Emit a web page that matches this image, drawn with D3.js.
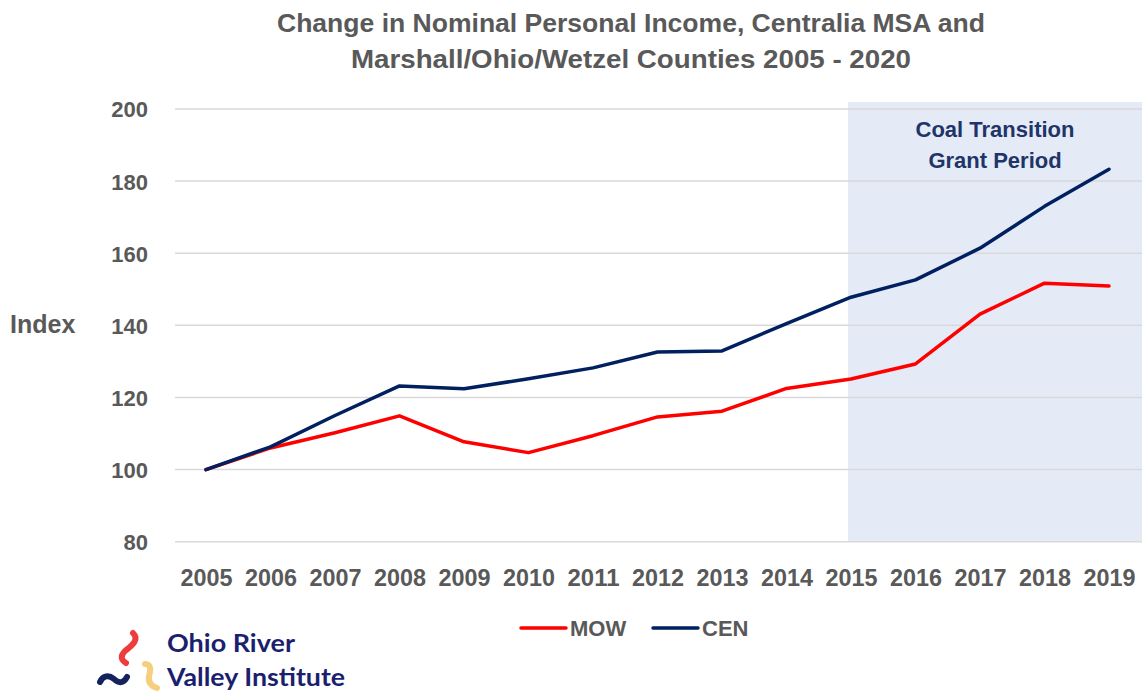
<!DOCTYPE html>
<html>
<head>
    <meta charset="utf-8">
    <title>Change in Nominal Personal Income</title>
    <script src="https://d3js.org/d3.v7.min.js"></script>
    <style>
        body { margin: 0; background: #fff; }
        text { font-family: "Liberation Sans", Arial, sans-serif; }
        .grid line { stroke: #d9d9d9; stroke-width: 1.5; }
        .axis text { fill: #595959; font-weight: bold; }
        .line { fill: none; stroke-width: 3.5; stroke-linejoin: round; stroke-linecap: round; }
        .mark { fill: none; stroke-width: 6; stroke-linecap: round; }
    </style>
</head>
<body>
<script>
    // data
    var years = ["2005", "2006", "2007", "2008", "2009", "2010", "2011", "2012",
        "2013", "2014", "2015", "2016", "2017", "2018", "2019"];
    var mow = [100, 106, 110.2, 114.9, 107.7, 104.7, 109.4, 114.6, 116.2, 122.5,
        125.1, 129.3, 143.1, 151.7, 150.9];
    var cen = [100, 106.3, 115, 123.2, 122.4, 125.2, 128.2, 132.6, 132.9, 140.5,
        147.8, 152.6, 161.4, 173, 183.3];
    var yTicks = [80, 100, 120, 140, 160, 180, 200];
    var grantStart = "2015";

    var w = 1143, h = 696;
    var plotLeft = 175, plotRight = 1142, plotTop = 102, plotBottom = 541.7;

    var svg = d3.select("body").append("svg")
        .attr("width", w)
        .attr("height", h);

    var x = d3.scalePoint().domain(years).range([206, 1109]);
    var y = d3.scaleLinear().domain([80, 200]).range([plotBottom, 109]);

    // shaded grant period
    svg.append("rect")
        .attr("x", x(grantStart) - 3)
        .attr("y", plotTop)
        .attr("width", plotRight - x(grantStart) + 3)
        .attr("height", plotBottom - plotTop)
        .attr("fill", "#e4eaf6");

    // gridlines
    svg.append("g")
        .attr("class", "grid")
        .selectAll("line")
        .data(yTicks)
        .enter()
        .append("line")
        .attr("x1", plotLeft)
        .attr("x2", plotRight)
        .attr("y1", function (d) { return y(d); })
        .attr("y2", function (d) { return y(d); });

    // y axis
    var yAxis = svg.append("g")
        .attr("class", "axis")
        .attr("transform", "translate(150,0)")
        .call(d3.axisLeft(y).tickValues(yTicks).tickSize(0).tickPadding(2));
    yAxis.select(".domain").remove();
    yAxis.selectAll("text").style("font-size", "22px").attr("dy", "0.36em");

    // x axis
    var xAxis = svg.append("g")
        .attr("class", "axis")
        .attr("transform", "translate(0,570)")
        .call(d3.axisBottom(x).tickSize(0).tickPadding(0));
    xAxis.select(".domain").remove();
    xAxis.selectAll("text")
        .style("font-size", "23px")
        .attr("dy", "0.71em")
        .attr("textLength", 52)
        .attr("lengthAdjust", "spacingAndGlyphs");

    var line = d3.line()
        .x(function (d, i) { return x(years[i]); })
        .y(function (d) { return y(d); });

    svg.append("path").attr("class", "line").attr("stroke", "#ff0000").attr("d", line(mow));
    svg.append("path").attr("class", "line").attr("stroke", "#002060").attr("d", line(cen));

    // title
    var title = ["Change in Nominal Personal Income, Centralia MSA and",
        "Marshall/Ohio/Wetzel Counties 2005 - 2020"];
    var titleLen = [708, 560];
    svg.selectAll(".title")
        .data(title)
        .enter()
        .append("text")
        .attr("class", "title")
        .attr("x", 631)
        .attr("y", function (d, i) { return 32 + i * 36; })
        .attr("text-anchor", "middle")
        .attr("textLength", function (d, i) { return titleLen[i]; })
        .attr("lengthAdjust", "spacingAndGlyphs")
        .style("font-size", "25px")
        .style("font-weight", "bold")
        .style("fill", "#595959")
        .text(function (d) { return d; });

    // y axis title
    svg.append("text")
        .attr("x", 10)
        .attr("y", 333)
        .style("font-size", "25px")
        .style("font-weight", "bold")
        .style("fill", "#595959")
        .text("Index");

    // grant period label
    svg.selectAll(".grant")
        .data(["Coal Transition", "Grant Period"])
        .enter()
        .append("text")
        .attr("x", 995)
        .attr("y", function (d, i) { return 137 + i * 31; })
        .attr("text-anchor", "middle")
        .style("font-size", "22px")
        .style("font-weight", "bold")
        .style("fill", "#1f3468")
        .text(function (d) { return d; });

    // legend
    var legend = [{ name: "MOW", color: "#ff0000", x: 521 }, { name: "CEN", color: "#002060", x: 653 }];
    var lg = svg.selectAll(".legend")
        .data(legend)
        .enter()
        .append("g")
        .attr("transform", function (d) { return "translate(" + d.x + ",628)"; });
    lg.append("line")
        .attr("x1", 0).attr("x2", 45)
        .attr("stroke", function (d) { return d.color; })
        .attr("stroke-width", 3.5)
        .attr("stroke-linecap", "round");
    lg.append("text")
        .attr("x", 49)
        .attr("dy", "0.36em")
        .style("font-size", "22px")
        .style("font-weight", "bold")
        .style("fill", "#595959")
        .text(function (d) { return d.name; });

    // logo
    var logo = svg.append("g");
    logo.append("path")
        .attr("class", "mark")
        .attr("d", "M133,633 C140,640 131,646 125,651 C120,656 121,660 126,663")
        .attr("stroke", "#ef3b3b");
    logo.append("path")
        .attr("class", "mark")
        .attr("d", "M100,682 C103,675 109,675 114,679 C119,684 124,683 127,677")
        .attr("stroke", "#14235e");
    logo.append("path")
        .attr("class", "mark")
        .attr("d", "M145,664 C151,664 151,670 149,676 C148,682 151,686 157,688")
        .attr("stroke", "#f6cf7d");
    logo.selectAll(".logotext")
        .data(["Ohio River", "Valley Institute"])
        .enter()
        .append("text")
        .attr("x", 167)
        .attr("y", function (d, i) { return 652 + i * 34; })
        .attr("textLength", function (d, i) { return i ? 178 : 128; })
        .attr("lengthAdjust", "spacingAndGlyphs")
        .style("font-family", "Lato, sans-serif")
        .style("font-size", "24px")
        .style("font-weight", "bold")
        .style("fill", "#1b1f6e")
        .text(function (d) { return d; });
</script>
</body>
</html>
